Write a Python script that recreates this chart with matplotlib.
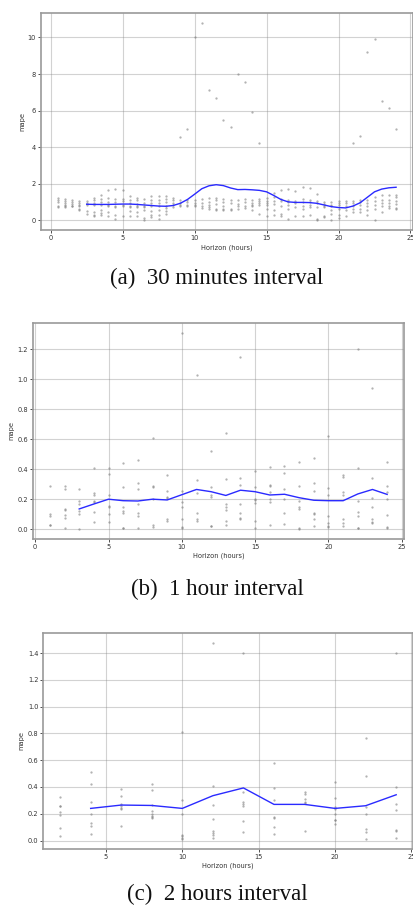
import numpy as np
import matplotlib
matplotlib.use("Agg")
import matplotlib.pyplot as plt

# ---------------- Data: panel (a) 30 minutes interval ----------------
a_hours = [0.5, 1.0, 1.5, 2.0, 2.5, 3.0, 3.5, 4.0, 4.5, 5.0, 5.5, 6.0, 6.5, 7.0, 7.5, 8.0,
           8.5, 9.0, 9.5, 10.0, 10.5, 11.0, 11.5, 12.0, 12.5, 13.0, 13.5, 14.0, 14.5, 15.0,
           15.5, 16.0, 16.5, 17.0, 17.5, 18.0, 18.5, 19.0, 19.5, 20.0, 20.5, 21.0, 21.5,
           22.0, 22.5, 23.0, 23.5, 24.0]
a_points = [
    [1.22, 1.1, 1.0, 0.75, 0.7],
    [1.15, 1.05, 0.95, 0.85, 0.75, 0.7],
    [1.1, 1.0, 0.9, 0.8, 0.75],
    [1.05, 0.95, 0.85, 0.75, 0.6, 0.55],
    [1.05, 0.95, 0.85, 0.5, 0.35],
    [1.2, 1.1, 0.95, 0.85, 0.45, 0.3, 0.2],
    [1.4, 1.15, 1.0, 0.85, 0.55, 0.4, 0.3],
    [1.65, 1.2, 1.0, 0.85, 0.75, 0.45, 0.2],
    [1.7, 1.15, 1.0, 0.8, 0.7, 0.3, 0.05],
    [1.65, 1.15, 1.05, 0.85, 0.75, 0.2],
    [1.3, 1.1, 0.95, 0.8, 0.7, 0.5, 0.2],
    [1.2, 1.1, 0.9, 0.8, 0.7, 0.45, 0.25],
    [1.15, 0.95, 0.8, 0.7, 0.55, 0.1, 0.02],
    [1.3, 1.1, 0.95, 0.75, 0.5, 0.3, 0.15],
    [1.3, 1.1, 0.95, 0.75, 0.55, 0.3, 0.05],
    [1.3, 1.15, 1.0, 0.8, 0.65, 0.5, 0.35],
    [1.2, 1.1, 0.95, 0.85, 0.7],
    [4.55, 1.1, 0.95, 0.85, 0.75],
    [5.0, 1.1, 1.0, 0.85, 0.75],
    [10.0, 1.1, 0.95, 0.85, 0.75],
    [10.8, 1.15, 0.95, 0.8, 0.65],
    [7.1, 1.2, 1.0, 0.85, 0.7, 0.6],
    [6.7, 1.2, 1.1, 0.9, 0.6, 0.55],
    [5.5, 1.15, 1.0, 0.75, 0.6, 0.55],
    [5.1, 1.1, 0.95, 0.6, 0.55],
    [8.0, 1.1, 0.9, 0.75, 0.6],
    [7.55, 1.15, 1.0, 0.75, 0.65],
    [5.9, 1.1, 0.95, 0.85, 0.75, 0.55],
    [4.2, 1.15, 1.05, 0.95, 0.85, 0.35],
    [1.2, 1.05, 0.95, 0.85, 0.6, 0.25],
    [1.5, 1.25, 1.05, 0.9, 0.55, 0.3],
    [1.65, 1.15, 1.05, 0.75, 0.35, 0.2],
    [1.7, 1.1, 1.0, 0.85, 0.6, 0.05],
    [1.6, 1.05, 0.95, 0.7, 0.2],
    [1.8, 1.15, 1.0, 0.8, 0.6, 0.2],
    [1.75, 1.1, 1.0, 0.85, 0.7, 0.3],
    [1.45, 1.05, 0.95, 0.7, 0.05, 0.0],
    [1.0, 0.9, 0.8, 0.7, 0.2, 0.15],
    [1.0, 0.85, 0.75, 0.55, 0.35, 0.0],
    [1.05, 0.95, 0.85, 0.6, 0.3, 0.1],
    [1.05, 0.95, 0.8, 0.55, 0.2],
    [4.2, 1.05, 0.95, 0.8, 0.6, 0.45],
    [4.6, 1.1, 1.0, 0.85, 0.6, 0.45],
    [9.2, 1.1, 0.95, 0.8, 0.55, 0.3],
    [9.9, 1.25, 1.05, 0.85, 0.6, 0.0],
    [6.5, 1.35, 1.1, 0.95, 0.8, 0.45],
    [6.15, 1.35, 1.1, 0.95, 0.75, 0.65],
    [5.0, 1.35, 1.25, 1.05, 0.9, 0.65, 0.6],
]
a_line_hours = [2.5, 3.0, 3.5, 4.0, 4.5, 5.0, 5.5, 6.0, 6.5, 7.0, 7.5, 8.0, 8.5, 9.0, 9.5,
                10.0, 10.5, 11.0, 11.5, 12.0, 12.5, 13.0, 13.5, 14.0, 14.5, 15.0, 15.5, 16.0,
                16.5, 17.0, 17.5, 18.0, 18.5, 19.0, 19.5, 20.0, 20.5, 21.0, 21.5, 22.0, 22.5,
                23.0, 23.5, 24.0]
a_line_mape = [0.87, 0.86, 0.86, 0.86, 0.87, 0.88, 0.88, 0.86, 0.83, 0.8, 0.77, 0.76, 0.8,
               0.92, 1.13, 1.42, 1.72, 1.88, 1.94, 1.89, 1.76, 1.67, 1.68, 1.66, 1.63, 1.55,
               1.35, 1.13, 1.0, 0.97, 0.97, 0.96, 0.92, 0.83, 0.74, 0.69, 0.67, 0.77, 0.95,
               1.25, 1.55, 1.7, 1.77, 1.8]

# ---------------- Data: panel (b) 1 hour interval ----------------
b_hours = list(range(1, 25))
b_points = [
    [0.29, 0.10, 0.09, 0.03, 0.025],
    [0.285, 0.27, 0.135, 0.13, 0.095, 0.075, 0.01],
    [0.27, 0.19, 0.165, 0.12, 0.10, 0.0],
    [0.41, 0.24, 0.23, 0.185, 0.18, 0.115, 0.05],
    [0.41, 0.37, 0.225, 0.155, 0.15, 0.10, 0.045],
    [0.44, 0.28, 0.145, 0.12, 0.11, 0.01, 0.005],
    [0.46, 0.305, 0.27, 0.165, 0.11, 0.085, 0.005],
    [0.61, 0.29, 0.28, 0.2, 0.03, 0.015],
    [0.36, 0.255, 0.215, 0.21, 0.065, 0.055],
    [1.31, 0.255, 0.18, 0.15, 0.07, 0.015, 0.01],
    [1.03, 0.325, 0.24, 0.105, 0.065, 0.055],
    [0.52, 0.28, 0.225, 0.215, 0.02, 0.018],
    [0.64, 0.335, 0.17, 0.145, 0.125, 0.055, 0.025],
    [1.15, 0.34, 0.295, 0.165, 0.11, 0.075, 0.07],
    [0.39, 0.28, 0.2, 0.195, 0.175, 0.055, 0.01],
    [0.415, 0.295, 0.285, 0.245, 0.2, 0.18, 0.03],
    [0.42, 0.375, 0.27, 0.2, 0.105, 0.035],
    [0.445, 0.29, 0.19, 0.15, 0.135, 0.01, 0.0],
    [0.475, 0.31, 0.255, 0.11, 0.1, 0.07, 0.02],
    [0.62, 0.275, 0.225, 0.085, 0.04, 0.02, 0.015],
    [0.36, 0.35, 0.245, 0.225, 0.065, 0.04, 0.02],
    [1.2, 0.405, 0.185, 0.115, 0.09, 0.01, 0.005],
    [0.94, 0.34, 0.21, 0.15, 0.07, 0.045, 0.04],
    [0.45, 0.29, 0.245, 0.2, 0.095, 0.015, 0.01],
]
b_line_hours = list(range(3, 25))
b_line_mape = [0.135, 0.168, 0.2, 0.19, 0.188, 0.2, 0.195, 0.23, 0.265, 0.25, 0.225, 0.26,
               0.25, 0.228, 0.233, 0.21, 0.193, 0.19, 0.19, 0.235, 0.265, 0.232]

# ---------------- Data: panel (c) 2 hours interval ----------------
c_hours = list(range(2, 25, 2))
c_points = [
    [0.325, 0.26, 0.255, 0.215, 0.19, 0.09, 0.03],
    [0.51, 0.42, 0.29, 0.2, 0.13, 0.11, 0.045],
    [0.385, 0.335, 0.27, 0.26, 0.245, 0.235, 0.11],
    [0.425, 0.375, 0.265, 0.22, 0.2, 0.185, 0.175, 0.165],
    [0.81, 0.3, 0.2, 0.04, 0.03, 0.02, 0.01],
    [1.48, 0.41, 0.265, 0.16, 0.07, 0.055, 0.04, 0.015],
    [1.4, 0.36, 0.29, 0.275, 0.255, 0.145, 0.06],
    [0.58, 0.395, 0.3, 0.175, 0.165, 0.1, 0.045],
    [0.365, 0.345, 0.31, 0.285, 0.28, 0.07],
    [0.435, 0.32, 0.25, 0.235, 0.195, 0.155, 0.15, 0.125],
    [0.765, 0.48, 0.25, 0.2, 0.085, 0.065, 0.01],
    [1.4, 0.4, 0.275, 0.225, 0.075, 0.07, 0.015],
]
c_line_hours = list(range(4, 25, 2))
c_line_mape = [0.24, 0.265, 0.262, 0.24, 0.335, 0.393, 0.27, 0.27, 0.24, 0.26, 0.342]

captions = ["(a)  30 minutes interval", "(b)  1 hour interval", "(c)  2 hours interval"]
x_label = "Horizon (hours)"
y_label = "mape"

# ---------------- Figure ----------------
W, H = 413, 907
fig = plt.figure(figsize=(W / 100, H / 100), dpi=100)

def px_axes(left, top, right, bottom):
    return fig.add_axes([left / W, 1 - bottom / H, (right - left) / W, (bottom - top) / H])

panels = [
    dict(box=(41, 13, 413, 230), hours=a_hours, pts=a_points, lh=a_line_hours, lm=a_line_mape,
         yt=np.arange(0, 11, 2), yfmt="{:.0f}", xt=[0, 5, 10, 15, 20, 25],
         ylab_x=-0.051, xlab_y=-0.083, cap_y=278),
    dict(box=(33, 323, 404, 539), hours=b_hours, pts=b_points, lh=b_line_hours, lm=b_line_mape,
         yt=np.arange(0, 1.21, 0.2), yfmt="{:.1f}", xt=[0, 5, 10, 15, 20, 25],
         ylab_x=-0.057, xlab_y=-0.079, cap_y=589),
    dict(box=(43.3, 632.7, 413, 849), hours=c_hours, pts=c_points, lh=c_line_hours, lm=c_line_mape,
         yt=np.arange(0, 1.41, 0.2), yfmt="{:.1f}", xt=[5, 10, 15, 20, 25],
         ylab_x=-0.058, xlab_y=-0.079, cap_y=894),
]

small = 4.8
for p, cap in zip(panels, captions):
    ax = px_axes(*p["box"])
    xs, ys = [], []
    for h, vals in zip(p["hours"], p["pts"]):
        xs += [h] * len(vals)
        ys += vals
    ax.plot(xs, ys, ".", color="gray", alpha=0.6, markersize=3.3, markeredgewidth=0)
    ax.plot(p["lh"], p["lm"], "-", color="#2a2aff", lw=1.0)
    ax.margins(x=0.05, y=0.05)
    ax.set_xticks(p["xt"])
    ax.set_yticks(p["yt"])
    ax.set_yticklabels([p["yfmt"].format(v) for v in p["yt"]])
    ax.grid(True, which="major", color="gray", ls="-", lw=0.8, alpha=0.35)
    ax.set_axisbelow(True)
    ax.tick_params(labelsize=small, length=2, width=0.6, pad=1.5, colors="#333333")
    for s in ax.spines.values():
        s.set_color("#9a9a9a")
        s.set_linewidth(1.2)
    ax.set_xlabel(x_label, fontsize=small, color="#333333", va="center")
    ax.xaxis.set_label_coords(0.5, p["xlab_y"])
    ax.set_ylabel(y_label, fontsize=small, color="#333333", va="center")
    ax.yaxis.set_label_coords(p["ylab_x"], 0.5)
    fig.text(217 / W, 1 - p["cap_y"] / H, cap, ha="center", va="center",
             family="Liberation Serif", fontsize=16.5, color="#111111")

fig.savefig("out.png", dpi=100)
